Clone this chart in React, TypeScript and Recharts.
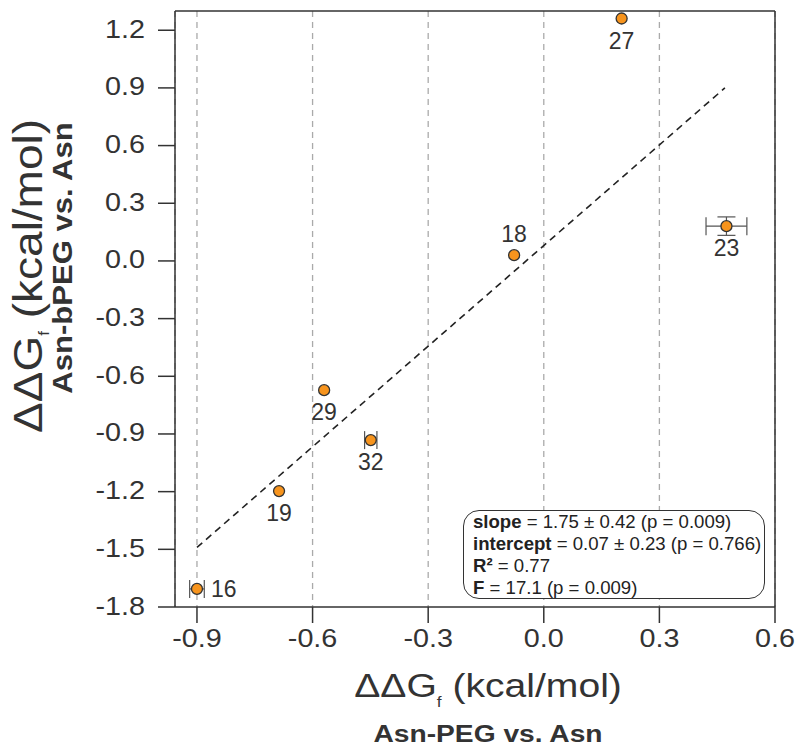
import React from "react";
import {
  CartesianGrid,
  ErrorBar,
  ReferenceLine,
  Scatter,
  ScatterChart,
  XAxis,
  YAxis,
} from "recharts";

// residue ids and ΔΔG values (kcal/mol)
const IDS = ["16", "19", "29", "32", "18", "27", "23"];
const X_VALS = [-0.9, -0.687, -0.57, -0.449, -0.077, 0.202, 0.474];
const Y_VALS = [-1.706, -1.197, -0.672, -0.932, 0.03, 1.261, 0.181];
const X_ERR = [0.019, 0, 0, 0.016, 0, 0, 0.053];
const Y_ERR = [0, 0, 0, 0, 0, 0, 0.048];

// ends of the dashed fit line
const FIT_X = [-0.9, 0.47];
const FIT_Y = [-1.49, 0.9];

const X_TICKS = [-0.9, -0.6, -0.3, 0, 0.3, 0.6];
const Y_TICKS = [-1.8, -1.5, -1.2, -0.9, -0.6, -0.3, 0, 0.3, 0.6, 0.9, 1.2];

const LABEL_SIDE: Record<string, "below" | "above" | "right"> = {
  "16": "right",
  "18": "above",
};

const FONT = "'Liberation Sans', Arial, Helvetica, sans-serif";
const INK = "#333";
const ORANGE = "#F7941D";

const data = IDS.map((id, i) => ({
  id,
  x: X_VALS[i],
  y: Y_VALS[i],
  ex: X_ERR[i],
  ey: Y_ERR[i],
}));

const fmt = (v: number) => v.toFixed(1);

const XTick = ({ x, y, payload }: any) => (
  <g transform={`translate(${x},${y}) scale(1.15,1)`}>
    <text textAnchor="middle" dy="0.71em" fontSize={25} fill={INK} fontFamily={FONT}>
      {fmt(payload.value)}
    </text>
  </g>
);

const YTick = ({ x, y, payload }: any) => (
  <g transform={`translate(${x},${y}) scale(1.15,1)`}>
    <text textAnchor="end" dy="0.3em" fontSize={25} fill={INK} fontFamily={FONT}>
      {fmt(payload.value)}
    </text>
  </g>
);

const Dot = (props: any) => {
  const { cx, cy, payload } = props;
  const side = LABEL_SIDE[payload.id] ?? "below";
  let lx = cx;
  let ly = cy + 22;
  let anchor: "middle" | "start" = "middle";
  if (side === "above") ly = cy - 21;
  if (side === "right") {
    lx = cx + 14;
    ly = cy;
    anchor = "start";
  }
  return (
    <g>
      <circle cx={cx} cy={cy} r={5.5} fill={ORANGE} stroke={INK} strokeWidth={1.3} />
      <text x={lx} y={ly} dy="0.36em" textAnchor={anchor} fontSize={23} fill={INK} fontFamily={FONT}>
        {payload.id}
      </text>
    </g>
  );
};

const XTitle = () => (
  <g fontFamily={FONT} fill={INK}>
    <text transform="translate(488,697) scale(1.15,1)" textAnchor="middle" fontSize={34}>
      ΔΔG<tspan fontSize={15} dy={10}>f</tspan>
      <tspan dy={-10}> (kcal/mol)</tspan>
    </text>
    <text transform="translate(488,742) scale(1.15,1)" textAnchor="middle" fontSize={24.5} fontWeight="bold">
      Asn-PEG vs. Asn
    </text>
  </g>
);

const YTitle = () => (
  <g fontFamily={FONT} fill={INK}>
    <text transform="translate(42,276) rotate(-90) scale(1.15,1)" textAnchor="middle" fontSize={40}>
      ΔΔG<tspan fontSize={15} dy={7}>f</tspan>
      <tspan dy={-7}> (kcal/mol)</tspan>
    </text>
    <text transform="translate(72,258) rotate(-90) scale(1.15,1)" textAnchor="middle" fontSize={27} fontWeight="bold">
      Asn-bPEG vs. Asn
    </text>
  </g>
);

export default function App() {
  return (
    <div
      style={{
        position: "absolute",
        left: 0,
        top: 0,
        width: 800,
        height: 752,
        background: "#fff",
        fontFamily: FONT,
      }}
    >
      <ScatterChart width={800} height={752} margin={{ top: 11, right: 25, bottom: 0, left: 0 }}>
        <CartesianGrid horizontal={false} stroke="#aaa" strokeWidth={1.3} strokeDasharray="6 5" />
        <XAxis
          type="number"
          dataKey="x"
          domain={[-0.957, 0.6]}
          ticks={X_TICKS}
          allowDataOverflow
          height={145}
          tickSize={16}
          tickMargin={6}
          axisLine={{ stroke: INK, strokeWidth: 1.5 }}
          tickLine={{ stroke: INK, strokeWidth: 1.5 }}
          tick={<XTick />}
          label={{ content: () => <XTitle /> }}
        />
        <YAxis
          type="number"
          dataKey="y"
          domain={[-1.8, 1.3]}
          ticks={Y_TICKS}
          allowDataOverflow
          width={175}
          tickSize={17}
          tickMargin={13}
          axisLine={{ stroke: INK, strokeWidth: 1.5 }}
          tickLine={{ stroke: INK, strokeWidth: 1.5 }}
          tick={<YTick />}
          label={{ content: () => <YTitle /> }}
        />
        <ReferenceLine y={1.3} stroke={INK} strokeWidth={1.5} />
        <ReferenceLine x={0.6} stroke={INK} strokeWidth={1.5} />
        <ReferenceLine
          segment={[
            { x: FIT_X[0], y: FIT_Y[0] },
            { x: FIT_X[1], y: FIT_Y[1] },
          ]}
          stroke="#222"
          strokeWidth={1.6}
          strokeDasharray="7 5"
        />
        <Scatter data={data} shape={<Dot />} isAnimationActive={false}>
          <ErrorBar dataKey="ex" direction="x" width={9} stroke="#555" strokeWidth={1.2} />
          <ErrorBar dataKey="ey" direction="y" width={9} stroke="#555" strokeWidth={1.2} />
        </Scatter>
      </ScatterChart>
      <div
        style={{
          position: "absolute",
          left: 463,
          top: 510,
          width: 302,
          height: 89,
          boxSizing: "border-box",
          border: `1.5px solid ${INK}`,
          borderRadius: 16,
          background: "#fff",
          padding: "0 0 0 9px",
          fontSize: 18.6,
          lineHeight: "22px",
          color: "#222",
          whiteSpace: "nowrap",
        }}
      >
        <div><b>slope</b> = 1.75 ± 0.42 (p = 0.009)</div>
        <div><b>intercept</b> = 0.07 ± 0.23 (p = 0.766)</div>
        <div><b>R²</b> = 0.77</div>
        <div><b>F</b> = 17.1 (p = 0.009)</div>
      </div>
    </div>
  );
}
